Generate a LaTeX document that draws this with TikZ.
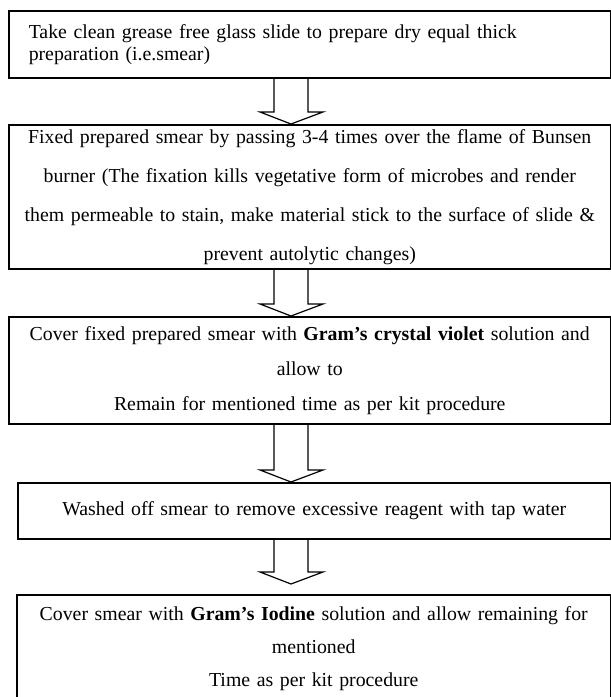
\documentclass[tikz,border=0pt]{standalone}
\usepackage{fontspec}
\setmainfont{Liberation Serif}
\usetikzlibrary{calc}
\pgfdeclarelayer{background}
\pgfsetlayers{background,main}
\newcommand{\stepfont}[1]{\fontsize{19.8}{#1}\selectfont}
\tikzstyle{procbox}=[draw,line width=1.5pt,inner xsep=2pt,inner ysep=0pt,anchor=north west,minimum width=602pt,text width=598pt,align=center]
\tikzstyle{blockarrow}=[draw,line width=1.2pt,fill=white,line join=miter]

\begin{document}
\begin{tikzpicture}[x=1pt,y=1pt]
	\clip (0,0) rectangle (611,-697);

	% First we draw the steps
	\node[procbox,align=left,inner xsep=20pt,text width=562pt,minimum height=67pt,font=\stepfont{22}] (b1) at (8,-10)
		{Take clean grease free glass slide to prepare dry equal thick\\preparation (i.e.smear)};
	\node[procbox,minimum height=144pt,font=\stepfont{39}] (b2) at (8,-124)
		{Fixed prepared smear by passing 3-4 times over the flame of Bunsen\\burner (The fixation kills vegetative form of microbes and render\\them permeable to stain, make material stick to the surface of slide \&\\prevent autolytic changes)};
	\node[procbox,minimum height=107pt,font=\stepfont{35}] (b3) at (8,-316)
		{Cover fixed prepared smear with \textbf{Gram’s crystal violet} solution and\\allow to\\Remain for mentioned time as per kit procedure};
	\node[procbox,minimum width=593pt,text width=589pt,minimum height=56pt,font=\stepfont{24}] (b4) at (17,-482)
		{Washed off smear to remove excessive reagent with tap water};
	\node[procbox,minimum width=594pt,text width=590pt,minimum height=108pt,font=\stepfont{33}] (b5) at (16,-594)
		{Cover smear with \textbf{Gram’s Iodine} solution and allow remaining for\\mentioned\\Time as per kit procedure};

	% Then the block arrows between them
	\begin{pgfonlayer}{background}
		\fill[white] (0,0) rectangle (611,-697);
		\foreach \src/\dst/\gap in {b1/b2/0, b2/b3/0, b3/b4/0, b4/b5/10}
		\path[blockarrow] let \p1=(\src.south), \p2=(\dst.north) in
			(274,\y1) -- (274,\y2+\gap+12) -- (260,\y2+\gap+12) -- (291,\y2+\gap)
			-- (323,\y2+\gap+12) -- (308,\y2+\gap+12) -- (308,\y1);
	\end{pgfonlayer}
\end{tikzpicture}
\end{document}
